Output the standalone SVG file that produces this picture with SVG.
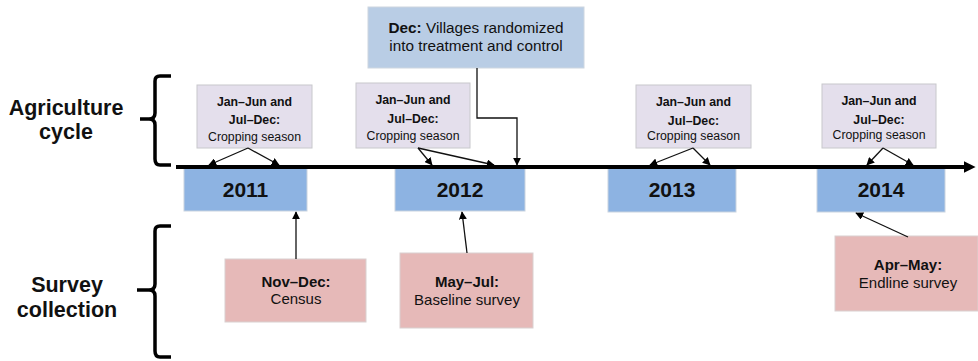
<svg xmlns="http://www.w3.org/2000/svg" width="978" height="361" viewBox="0 0 978 361">
<defs>
<marker id="ah" viewBox="0 0 10 10" refX="9" refY="5" markerWidth="8" markerHeight="8" markerUnits="userSpaceOnUse" orient="auto"><path d="M0,0 L10,5 L0,10 z" fill="#000"/></marker>
<marker id="big" viewBox="0 0 10 10" refX="2" refY="5" markerWidth="12" markerHeight="12" markerUnits="userSpaceOnUse" orient="auto"><path d="M0,0 L10,5 L0,10 z" fill="#000"/></marker>
</defs>
<style>
text{font-family:"Liberation Sans",Arial,sans-serif;fill:#111;text-anchor:middle}
.year{fill:#8db3e2;stroke:#c9d3df;stroke-width:1}
.crop{fill:#e4dfec;stroke:#c8c8cc;stroke-width:1}
.dec{fill:#b9cde5;stroke:#cdd6e0;stroke-width:1}
.pink{fill:#e6b9b8;stroke:#d9d0d0;stroke-width:1}
.yt{font-size:21px;font-weight:bold}
.ct{font-size:12.3px}
.b{font-weight:bold}
.st{font-size:15px}
.lab{font-size:21.5px;font-weight:bold}
.brace{fill:none;stroke:#000;stroke-width:3.5}
.con{fill:none;stroke:#111;stroke-width:1.3}
</style>
<rect width="978" height="361" fill="#fff"/>

<g id="label-agriculture">
<text class="lab" x="66" y="115">Agriculture</text>
<text class="lab" x="66" y="139">cycle</text>
<path class="brace" d="M171,76 L160,76 Q155,76 155,81 L155,113 Q155,119 149,119 L140,119 L149,119 Q155,119 155,125 L155,159 Q155,165 160,165 L171,165"/>
</g>
<g id="label-survey">
<text class="lab" x="67" y="292">Survey</text>
<text class="lab" x="67" y="317">collection</text>
<path class="brace" d="M171,226 L160,226 Q155,226 155,231 L155,284 Q155,290 149,290 L137,290 L149,290 Q155,290 155,296 L155,351 Q155,357 160,357 L171,357"/>
</g>

<g id="year-2011"><rect class="year" x="184" y="168" width="123" height="43"/><text class="yt" x="245.5" y="197">2011</text></g>
<g id="year-2012"><rect class="year" x="395" y="168" width="130" height="43"/><text class="yt" x="460" y="197">2012</text></g>
<g id="year-2013"><rect class="year" x="608" y="168" width="128" height="44"/><text class="yt" x="672" y="197">2013</text></g>
<g id="year-2014"><rect class="year" x="817" y="168" width="128" height="44"/><text class="yt" x="881" y="197">2014</text></g>

<g id="crop-1"><rect class="crop" x="197" y="85" width="115" height="63"/><text class="ct b" x="254.5" y="106">Jan–Jun and</text><text class="ct b" x="254.5" y="124">Jul–Dec:</text><text class="ct" x="254.5" y="141">Cropping season</text></g>
<g id="crop-2"><rect class="crop" x="356" y="83" width="114" height="65"/><text class="ct b" x="413" y="104">Jan–Jun and</text><text class="ct b" x="413" y="123">Jul–Dec:</text><text class="ct" x="413" y="140">Cropping season</text></g>
<g id="crop-3"><rect class="crop" x="636" y="85" width="115" height="63"/><text class="ct b" x="693.5" y="106">Jan–Jun and</text><text class="ct b" x="693.5" y="125">Jul–Dec:</text><text class="ct" x="693.5" y="140">Cropping season</text></g>
<g id="crop-4"><rect class="crop" x="822" y="84" width="114" height="64"/><text class="ct b" x="879" y="105">Jan–Jun and</text><text class="ct b" x="879" y="124">Jul–Dec:</text><text class="ct" x="879" y="139">Cropping season</text></g>

<g id="dec-randomized"><rect class="dec" x="368" y="7" width="216" height="61"/><text class="st" x="476" y="33" style="font-size:15.3px"><tspan class="b">Dec:</tspan> Villages randomized</text><text class="st" x="476" y="51" style="font-size:15.3px">into treatment and control</text></g>

<g id="census"><rect class="pink" x="225" y="259" width="141" height="63"/><text class="st b" x="296" y="287">Nov–Dec:</text><text class="st" x="296" y="304">Census</text></g>
<g id="baseline"><rect class="pink" x="400" y="253" width="133" height="75"/><text class="st b" x="467" y="287">May–Jul:</text><text class="st" x="467" y="305">Baseline survey</text></g>
<g id="endline"><rect class="pink" x="835" y="236" width="143" height="75"/><text class="st b" x="908" y="270">Apr–May:</text><text class="st" x="908" y="288">Endline survey</text></g>

<g id="connectors">
<line x1="176" y1="167" x2="966" y2="167" stroke="#000" stroke-width="4" marker-end="url(#big)"/>
<line class="con" x1="248" y1="148" x2="209" y2="165" marker-end="url(#ah)"/>
<line class="con" x1="248" y1="148" x2="279" y2="165" marker-end="url(#ah)"/>
<line class="con" x1="418" y1="148" x2="432" y2="165" marker-end="url(#ah)"/>
<line class="con" x1="418" y1="148" x2="494" y2="165" marker-end="url(#ah)"/>
<line class="con" x1="693" y1="148" x2="650" y2="165" marker-end="url(#ah)"/>
<line class="con" x1="693" y1="148" x2="710" y2="165" marker-end="url(#ah)"/>
<line class="con" x1="883" y1="148" x2="867" y2="165" marker-end="url(#ah)"/>
<line class="con" x1="883" y1="148" x2="913" y2="165" marker-end="url(#ah)"/>
<path class="con" d="M477,68 L477,118 L517,118 L517,165" marker-end="url(#ah)"/>
<line class="con" x1="296" y1="259" x2="296" y2="212" marker-end="url(#ah)"/>
<line class="con" x1="467" y1="253" x2="462" y2="212" marker-end="url(#ah)"/>
<line class="con" x1="908" y1="237" x2="856" y2="213" marker-end="url(#ah)"/>
</g>
</svg>
